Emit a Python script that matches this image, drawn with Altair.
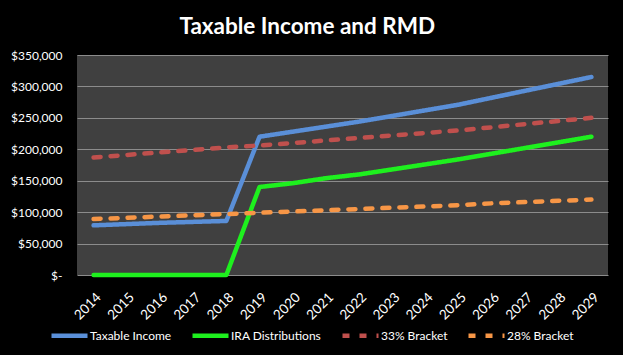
import altair as alt
import pandas as pd

years = [str(y) for y in range(2014, 2030)]
taxable_income = [79000, 81000, 83000, 84500, 86000, 220000, 228000, 236000, 244000,
                  253000, 262000, 271000, 282000, 293000, 304000, 315000]
ira_distributions = [0, 0, 0, 0, 0, 140000, 146000, 154000, 160000, 168000, 176000,
                     184000, 193000, 202000, 211000, 220000]
bracket_33 = [187000, 191000, 195000, 199000, 203000, 206000, 210000, 214000, 218000,
              222000, 226000, 230000, 235000, 240000, 245000, 250000]
bracket_28 = [89000, 91000, 93000, 95000, 97000, 99000, 101000, 103000, 105000, 107000,
              109000, 111000, 114000, 116000, 118000, 120000]

series_names = ["Taxable Income", "IRA Distributions", "33% Bracket", "28% Bracket"]
series_colors = ["#5A8FD8", "#1EF01E", "#C0504D", "#F79646"]
series_dash = [[1, 0], [1, 0], [7, 10], [7, 10]]

rows = []
for name, vals in zip(series_names, [taxable_income, ira_distributions, bracket_33, bracket_28]):
    for y, v in zip(years, vals):
        rows.append({"Year": y, "Value": v, "Series": name})
df = pd.DataFrame(rows)

chart = alt.Chart(df).mark_line(strokeWidth=4.5, strokeCap="round", strokeJoin="round").encode(
    x=alt.X("Year:O", scale=alt.Scale(type="point", padding=0.5), sort=years,
            axis=alt.Axis(title=None, labelAngle=-45, labelColor="white", labelFontSize=13.5,
                          labelFont="Lato", ticks=False, domain=False, grid=False, labelPadding=15)),
    y=alt.Y("Value:Q", scale=alt.Scale(domain=[0, 350000]),
            axis=alt.Axis(title=None, values=[0, 50000, 100000, 150000, 200000, 250000, 300000, 350000],
                          labelExpr="datum.value == 0 ? '$-\u00a0\u00a0' : '$' + format(datum.value, ',.0f')",
                          labelColor="white", labelFontSize=12, labelFont="Lato", ticks=False,
                          domain=False, gridColor="#8C8C8C", gridWidth=1, gridOpacity=1,
                          labelPadding=15)),
    color=alt.Color("Series:N", scale=alt.Scale(domain=series_names, range=series_colors),
                    legend=alt.Legend(title=None, orient="none", direction="horizontal",
                                      legendX=-28, legendY=260, symbolType="stroke",
                                      symbolSize=1296, symbolStrokeWidth=4.5, labelColor="white",
                                      labelFontSize=12, labelFont="Lato", columnPadding=11,
                                      labelOffset=0)),
    strokeDash=alt.StrokeDash("Series:N", scale=alt.Scale(domain=series_names, range=series_dash),
                              legend=None),
    order=alt.Order("Year:O"),
).properties(
    width=531, height=220,
    title=alt.TitleParams("Taxable Income and RMD", color="white", fontSize=22.5, font="Lato",
                          fontWeight="bold", anchor="middle", frame="bounds", offset=11, dx=-2),
    autosize=alt.AutoSizeParams(type="none"),
    padding={"left": 77, "top": 55, "right": 15, "bottom": 80},
    background="black",
).configure_view(fill="#404040", stroke=None)

chart.save("out.html", embed_options={"renderer": "svg", "actions": False})
